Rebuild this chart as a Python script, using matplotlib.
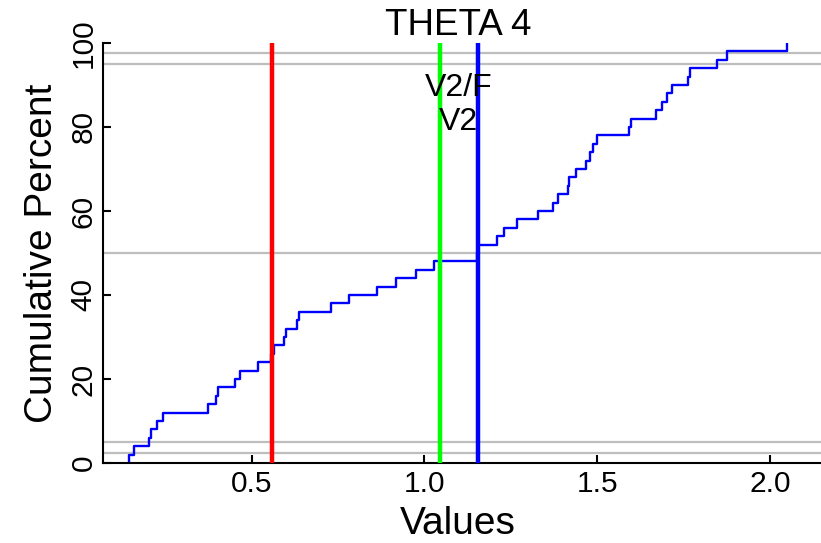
import matplotlib
matplotlib.use("Agg")
import matplotlib.pyplot as plt
import numpy as np

plt.rcParams['font.family'] = ['Liberation Sans', 'DejaVu Sans']

# Sorted sample values
values = [0.146, 0.158, 0.204, 0.210, 0.227, 0.242, 0.375, 0.398, 0.404, 0.453,
          0.467, 0.519, 0.557, 0.566, 0.595, 0.598, 0.632, 0.638, 0.731, 0.783,
          0.864, 0.919, 0.977, 1.029, 1.151, 1.156, 1.209, 1.229, 1.269, 1.330,
          1.371, 1.388, 1.417, 1.420, 1.440, 1.469, 1.478, 1.489, 1.501, 1.591,
          1.599, 1.669, 1.689, 1.701, 1.718, 1.762, 1.770, 1.848, 1.877, 2.050]

ref_lines = [0.559, 1.0455, 1.154]
ref_colors = ['#FF0000', '#00FF00', '#0000FF']
ref_labels = ['V2/F', 'V2']
hlines = [2.5, 5, 50, 95, 97.5]
xticks = [0.5, 1.0, 1.5, 2.0]
yticks = [0, 20, 40, 60, 80, 100]
title = 'THETA 4'

W, H = 821, 543
fig = plt.figure(figsize=(W / 100, H / 100), dpi=100)
ax = fig.add_axes([103 / W, (H - 463) / H, (W - 103) / W, 420 / H])

n = len(values)
xs = [values[0]] + values
ys = [0] + [100.0 * (i + 1) / n for i in range(n)]

for h in hlines:
    ax.axhline(h, color='#BEBEBE', lw=1.6, zorder=1)

ax.step(xs, ys, where='post', color='#0000FF', lw=1.7, zorder=2)

for v, c in zip(ref_lines, ref_colors):
    ax.axvline(v, color=c, lw=3.2, zorder=3)

xm = (ref_lines[1] + ref_lines[2]) / 2
ax.text(xm, 89.3, ref_labels[0], ha='center', va='center', fontsize=23, zorder=4)
ax.text(xm, 81.2, ref_labels[1], ha='center', va='center', fontsize=23, zorder=4)

ax.set_xlim(0.0697, 2.148)
ax.set_ylim(0, 100)
ax.set_xticks(xticks)
ax.set_xticklabels([f'{t:.1f}' for t in xticks])
ax.set_yticks(yticks)
ax.set_yticklabels([str(t) for t in yticks])

for s in ['top', 'right']:
    ax.spines[s].set_visible(False)
for s in ['left', 'bottom']:
    ax.spines[s].set_linewidth(1.5)

ax.tick_params(axis='both', direction='in', length=6, width=1.5, labelsize=21.5)
ax.tick_params(axis='x', pad=5)
ax.tick_params(axis='y', pad=4, labelrotation=90)
for lab in ax.get_yticklabels():
    lab.set_va('center')

ax.set_xlabel('Values', fontsize=28)
ax.xaxis.set_label_coords((458 - 103) / 718, (463 - 506) / 420)
ax.set_ylabel('Cumulative Percent', fontsize=28)
ax.yaxis.set_label_coords((60 - 103) / 718, 0.5)

ax.set_title(title, fontsize=26.5, x=(458.5 - 103) / 718, pad=6)

fig.savefig('out.png', dpi=100)
